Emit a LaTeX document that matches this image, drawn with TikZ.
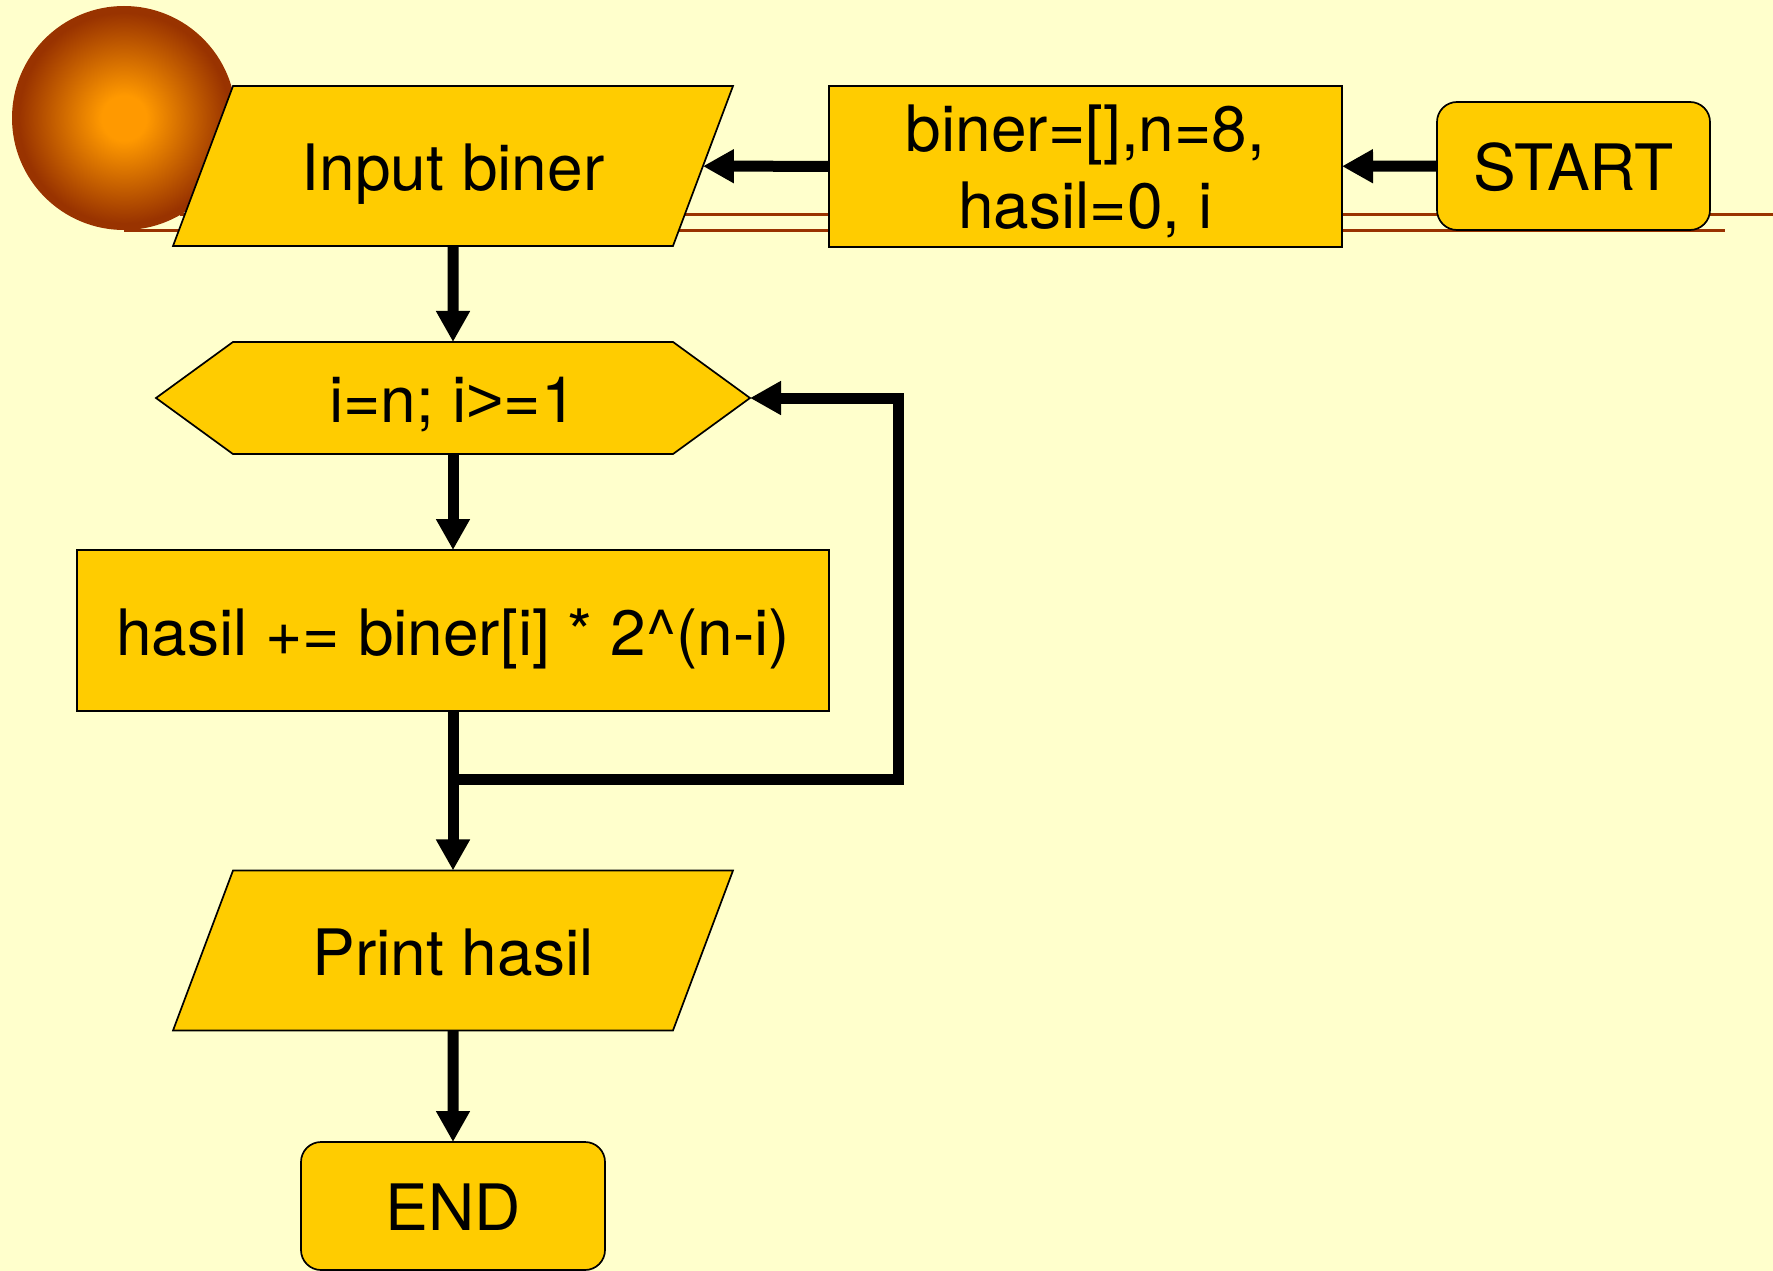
\documentclass[tikz,border=0pt]{standalone}
\usepackage{fontspec}
\setmainfont{TeX Gyre Heros}
\newfontfamily\gtfont{Liberation Sans}
\usetikzlibrary{arrows.meta,shapes.geometric,shapes.symbols}
\definecolor{bgc}{HTML}{FFFFCC}
\definecolor{boxc}{HTML}{FFCC00}
\definecolor{linec}{HTML}{993300}
\definecolor{ballc}{HTML}{FF9900}
\pgfdeclareradialshading{ballshade}{\pgfpointorigin}{color(0bp)=(ballc); color(5bp)=(ballc); color(23.5bp)=(linec); color(50bp)=(linec)}
\tikzset{
  x=1pt,y=-1pt,
  base/.style={draw=black,line width=1.7pt,fill=boxc,inner sep=0pt,outer sep=0pt,align=center,
    font=\fontsize{64}{77}\selectfont},
  oneline/.style={text height=49pt,text depth=0pt},
  procbox/.style={base,rectangle},
  termbox/.style={base,oneline,rectangle,rounded corners=20pt},
  iobox/.style={base,oneline,trapezium,trapezium stretches body=true,trapezium left angle=39.23,trapezium right angle=140.77,
    minimum width=560pt,minimum height=160pt},
  loopbox/.style={base,oneline,signal,signal to=east and west,signal pointer angle=72.1,
    minimum width=594pt,minimum height=112pt},
  flow/.style={line width=11pt,draw=black,-{Triangle[length=31pt,width=32pt]}},
  rule/.style={draw=linec,line width=3pt},
}
\begin{document}
\begin{tikzpicture}
\useasboundingbox (0,0) rectangle (1773,1271);
\fill[bgc] (0,0) rectangle (1773,1271);
\draw[rule] (180,214) -- (1773,214);
\draw[rule] (124,230) -- (1725,230);
\shade[shading=ballshade] (124,118) circle[radius=112pt];
\node[termbox,minimum width=273pt,minimum height=128pt] (start) at (1573.5,166) {START};
\node[procbox,text height=123.6pt,text depth=0pt,minimum width=513pt,minimum height=161pt] (init) at (1085.5,166.5) {biner=[],n=8,\\hasil=0, i};
\node[iobox] (input) at (453,166) {Input biner};
\node[loopbox] (loop) at (453,398) {i=n; i{\gtfont>}=1};
\node[procbox,oneline,minimum width=752pt,minimum height=161pt] (calc) at (453,630.5) {hasil += biner[i] * 2\^{}(n-i)};
\node[iobox] (print) at (453,950.5) {Print hasil};
\node[termbox,minimum width=304pt,minimum height=128pt] (end) at (453,1206) {END};
\coordinate (join) at (453,779);
\coordinate (cornerA) at (898,779);
\coordinate (cornerB) at (898,398);
\draw[flow] (start) -- (init);
\draw[flow] (init) -- (input);
\draw[flow] (input) -- (loop);
\draw[flow] (loop) -- (calc);
\draw[flow] (calc) -- (print);
\draw[flow] (print) -- (end);
\draw[flow] (join) -- (cornerA) -- (cornerB) -- (loop.east);
\end{tikzpicture}
\end{document}
